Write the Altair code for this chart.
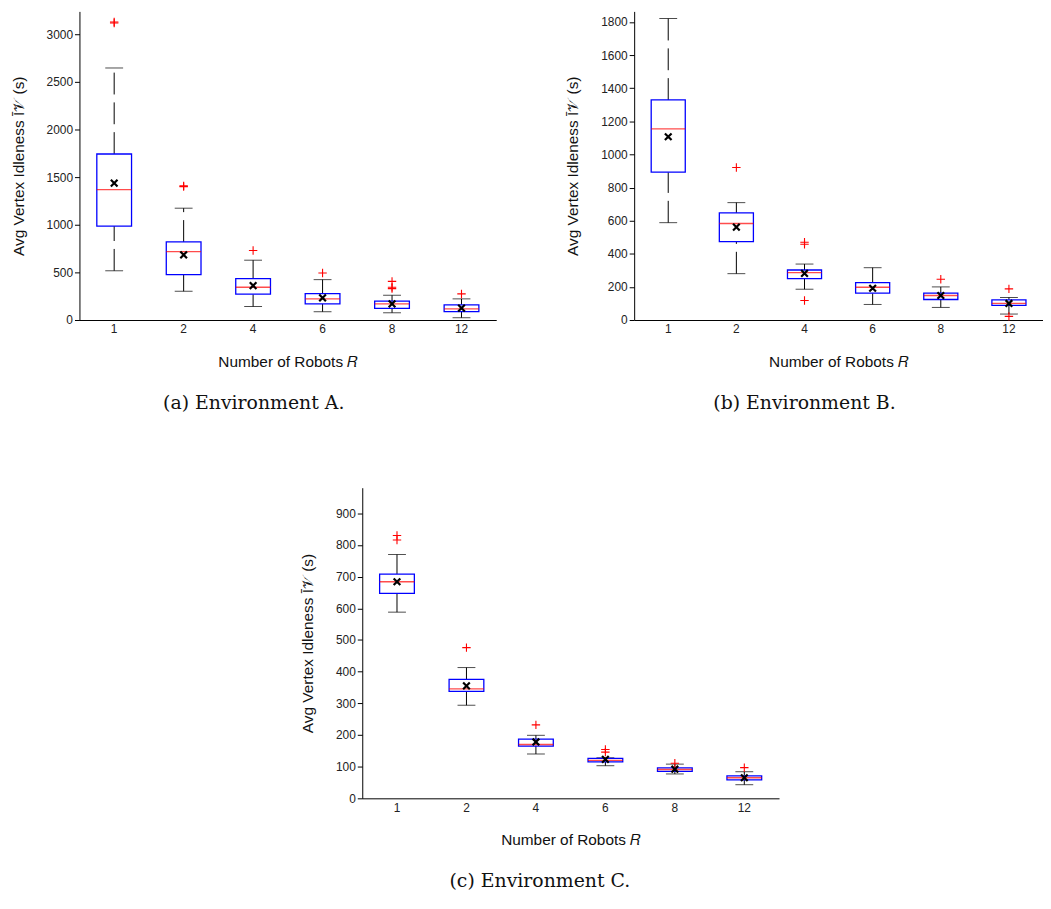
import altair as alt
import pandas as pd

R_LABELS = ["1", "2", "4", "6", "8", "12"]

# Environment A
A_low = [517, 302, 142, 87, 76, 24]
A_q1 = [986, 476, 271, 170, 122, 87]
A_med = [1368, 719, 344, 222, 170, 118]
A_q3 = [1743, 820, 434, 278, 198, 160]
A_high = [2646, 1174, 628, 424, 260, 222]
A_mean = [1437, 684, 361, 233, 170, 125]
A_out_r = ["1", "1", "2", "2", "4", "6", "8", "8", "8", "12"]
A_out_v = [3118, 3128, 1400, 1408, 729, 493, 406, 344, 330, 274]
A_ticks = [0, 500, 1000, 1500, 2000, 2500, 3000]

# Environment B
B_low = [588, 280, 186, 94, 76, 36]
B_q1 = [893, 474, 250, 162, 124, 88]
B_med = [1155, 583, 286, 198, 148, 100]
B_q3 = [1329, 647, 302, 226, 162, 122]
B_high = [1821, 709, 338, 316, 200, 136]
B_mean = [1107, 561, 282, 192, 148, 100]
B_out_r = ["2", "4", "4", "4", "8", "12", "12"]
B_out_v = [921, 470, 458, 118, 246, 188, 22]
B_ticks = [0, 200, 400, 600, 800, 1000, 1200, 1400, 1600, 1800]

# Environment C
C_low = [588, 294, 140, 103, 77, 43]
C_q1 = [647, 338, 165, 115, 85, 58]
C_med = [684, 346, 170, 120, 91, 65]
C_q3 = [708, 376, 187, 126, 96, 71]
C_high = [770, 413, 199, 128, 108, 84]
C_mean = [684, 355, 178, 123, 92, 65]
C_out_r = ["1", "1", "2", "4", "6", "6", "8", "12"]
C_out_v = [830, 816, 476, 232, 154, 146, 111, 97]
C_ticks = [0, 100, 200, 300, 400, 500, 600, 700, 800, 900]

Y_TITLE = "Avg Vertex Idleness \u012a\U0001D4B1 (s)"
X_TITLE = "Number of Robots \U0001D445"
SANS = "Liberation Sans"
SERIF = "DejaVu Serif"

PLUS = "M-1,0L1,0M0,-1L0,1"
XMARK = "M-1,-1L1,1M-1,1L1,-1"


def panel(low, q1, med, q3, high, mean, out_r, out_v, ymax, ticks, width, height, caption):
    df = pd.DataFrame(dict(R=R_LABELS, low=low, q1=q1, med=med, q3=q3, high=high, mean=mean))
    odf = pd.DataFrame(dict(R=out_r, v=out_v))
    box_w = width / 6 / 2
    x = alt.X(
        "R:N",
        sort=R_LABELS,
        scale=alt.Scale(paddingInner=0, paddingOuter=0),
        axis=alt.Axis(
            title=X_TITLE, labelAngle=0, ticks=False, labelPadding=4,
            labelFontSize=12, labelFont=SANS, labelColor="#222",
            titleFont=SANS, titleFontSize=15.5, titleFontWeight="normal",
            titlePadding=20, titleColor="#111", domainColor="black",
        ),
    )
    yscale = alt.Scale(domain=[0, ymax], nice=False, zero=True)
    yaxis = alt.Axis(
        title=Y_TITLE, values=ticks, format="d", labelOverlap=False, labelFlush=False,
        grid=False, tickSize=5, tickColor="black",
        labelPadding=2, labelFontSize=12, labelFont=SANS, labelColor="#222",
        titleFont=SANS, titleFontSize=15.5, titleFontWeight="normal",
        titlePadding=20, titleColor="#111", domainColor="black",
    )

    def Y(field):
        return alt.Y(field, scale=yscale, axis=yaxis)

    base = alt.Chart(df)
    lower = base.mark_rule(color="black", strokeWidth=1, strokeDash=[22, 8]).encode(
        x=x, y=Y("low:Q"), y2="q1:Q"
    )
    upper = base.mark_rule(color="black", strokeWidth=1, strokeDash=[22, 8]).encode(
        x=x, y=Y("q3:Q"), y2="high:Q"
    )
    cap_lo = base.mark_tick(size=18, thickness=1, color="black").encode(x=x, y=Y("low:Q"))
    cap_hi = base.mark_tick(size=18, thickness=1, color="black").encode(x=x, y=Y("high:Q"))
    box = base.mark_bar(width=box_w, fill="white", stroke="#0000FF", strokeWidth=1.3).encode(
        x=x, y=Y("q1:Q"), y2="q3:Q"
    )
    median = base.mark_tick(size=box_w, thickness=1.3, color="#FF0000").encode(
        x=x, y=Y("med:Q")
    )
    mean_pt = base.mark_point(shape=XMARK, size=45, strokeWidth=2.2, color="black", filled=False, opacity=1).encode(
        x=x, y=Y("mean:Q")
    )
    outl = alt.Chart(odf).mark_point(shape=PLUS, size=72, strokeWidth=1.1, color="#FF0000", filled=False, opacity=1).encode(
        x=x, y=Y("v:Q")
    )
    return alt.layer(lower, upper, cap_lo, cap_hi, box, median, mean_pt, outl).properties(
        width=width, height=height,
        title=alt.TitleParams(
            caption, orient="bottom", anchor="middle", frame="bounds", font=SERIF,
            fontSize=19, fontWeight="normal", color="#111", offset=24,
        ),
    )


pa = panel(A_low, A_q1, A_med, A_q3, A_high, A_mean, A_out_r, A_out_v, 3240, A_ticks, 420, 311,
           "(a) Environment A.")
pb = panel(B_low, B_q1, B_med, B_q3, B_high, B_mean, B_out_r, B_out_v, 1864, B_ticks, 412, 311,
           "(b) Environment B.")
pc = panel(C_low, C_q1, C_med, C_q3, C_high, C_mean, C_out_r, C_out_v, 981, C_ticks, 420, 313,
           "(c) Environment C.")

spacer = alt.Chart(pd.DataFrame({"a": [0]})).mark_point(opacity=0).encode(
    x=alt.value(0), y=alt.value(0)
).properties(width=222, height=10)

top = alt.hconcat(pa, pb, spacing=70)
bottom = alt.hconcat(spacer, pc, spacing=0)
chart = alt.vconcat(top, bottom, spacing=72).properties(
    padding={"left": 3, "top": 0, "right": 0, "bottom": 0}
).configure_view(stroke=None)

chart.save("out.html", embed_options={"renderer": "svg", "actions": False})
